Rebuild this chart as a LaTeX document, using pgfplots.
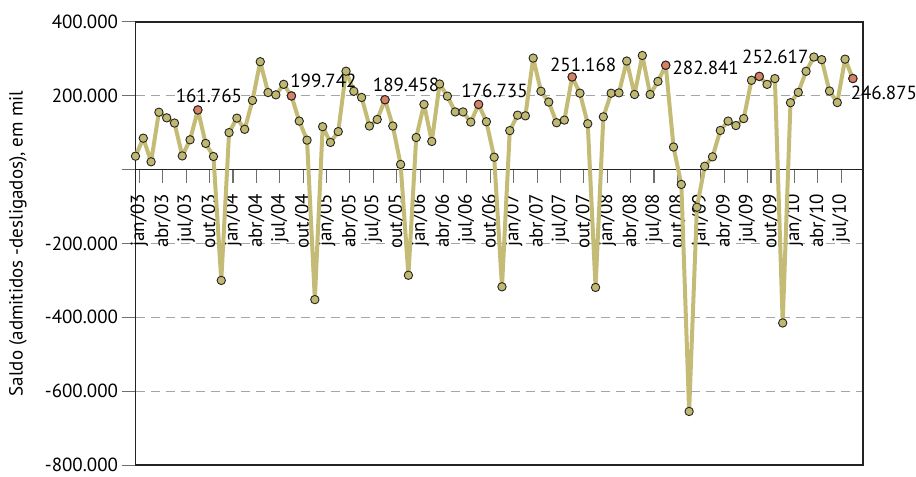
\documentclass[border=0pt]{standalone}
\usepackage{pgfplots}
\usepackage{pgfplotstable}
\pgfplotsset{compat=1.18}
\usepackage{fontspec}
\setmainfont{PT Sans}
\definecolor{khaki}{RGB}{196,188,118}
\definecolor{mk}{RGB}{192,184,112}
\definecolor{redmk}{RGB}{214,128,100}
\definecolor{framec}{RGB}{35,35,35}
\definecolor{tickc}{RGB}{110,110,110}
\definecolor{gridc}{RGB}{165,165,165}

\pgfplotstableread{
x y
0 36.5
1 85.3
2 21.3
3 155.6
4 140.4
5 126.2
6 37.3
7 80.9
8 161.765
9 71.1
10 35.6
11 -300
12 100.4
13 139.6
14 109.3
15 187.6
16 292.4
17 208.9
18 202.7
19 231.1
20 199.742
21 131.6
22 80.0
23 -352
24 116.4
25 73.8
26 103.1
27 266.7
28 212.4
29 195.6
30 118.2
31 136
32 189.458
33 118.2
34 14.2
35 -286
36 87.1
37 176.9
38 76.4
39 232
40 199.1
41 156.4
42 156.4
43 128.9
44 176.735
45 129.8
46 33.8
47 -317.3
48 105.8
49 147.6
50 145.8
51 302.2
52 212.4
53 183.1
54 127.1
55 134.2
56 251.168
57 207.1
58 124.4
59 -319
60 143.1
61 207.1
62 208
63 294.2
64 203.6
65 309.3
66 203.6
67 239.1
68 282.841
69 61.3
70 -40
71 -655
72 -101.7
73 9.2
74 34.8
75 106.2
76 131.6
77 119.5
78 138.4
79 242.1
80 252.617
81 231.0
82 246.7
83 -415.2
84 181.4
85 209.4
86 266.4
87 305.1
88 298.0
89 213.0
90 181.8
91 299.4
92 246.875
}\saldo

\pgfplotstableread{
x y
8 161.765
20 199.742
32 189.458
44 176.735
56 251.168
68 282.841
80 252.617
92 246.875
}\setembro

\begin{document}
\begin{tikzpicture}[font=\fontsize{19}{22}\selectfont]
\begin{axis}[name=main, scale only axis, width=727.5pt, height=443pt,
  xmin=0, xmax=93.3, ymin=-800, ymax=400,
  axis line style={framec, line width=1.2pt},
  xtick=\empty,
  ytick={-800,-600,-400,-200,0,200,400},
  yticklabels={-800.000,-600.000,-400.000,-200.000,,200.000,400.000},
  ytick pos=left, tick align=outside, major tick length=14pt,
  tick style={tickc, line width=1pt},
  ymajorgrids, grid style={gridc, dash pattern=on 9pt off 6pt, line width=1pt},
  yticklabel style={text=black},
]
\end{axis}
\begin{axis}[name=xax, at={(main.north west)}, anchor=north west,
  scale only axis, width=727.5pt, height=147.667pt,
  xmin=0, xmax=93.3, ymin=0, ymax=400,
  axis x line=bottom, axis y line=none,
  axis line style={-, framec, line width=1.2pt},
  xtick={0.5,3.5,6.5,9.5,12.5,15.5,18.5,21.5,24.5,27.5,30.5,33.5,36.5,39.5,42.5,45.5,48.5,51.5,54.5,57.5,60.5,63.5,66.5,69.5,72.5,75.5,78.5,81.5,84.5,87.5,90.5},
  xticklabels={jan/03,abr/03,jul/03,out/03,jan/04,abr/04,jul/04,out/04,jan/05,abr/05,jul/05,out/05,jan/06,abr/06,jul/06,out/06,jan/07,abr/07,jul/07,out/07,jan/08,abr/08,jul/08,out/08,jan/09,abr/09,jul/09,out/09,jan/10,abr/10,jul/10},
  ytick=\empty,
  tick align=outside, major tick length=13pt,
  xtick style={tickc, line width=1.1pt},
  xticklabel shift=10pt,
  xticklabel style={rotate=90, anchor=east, text=black, xshift=2pt},
  clip=false]
\addplot[khaki, line width=4pt, line join=round, mark=*, mark size=4.2pt,
  mark options={fill=mk, draw=framec, line width=0.9pt}] table {\saldo};
\addplot[only marks, mark=*, mark size=4.2pt,
  mark options={fill=redmk, draw=framec, line width=0.9pt}] table {\setembro};
\node[xshift=11pt,yshift=14pt] at (axis cs:8,161.765) {161.765};
\node[xshift=32pt,yshift=15pt] at (axis cs:20,199.742) {199.742};
\node[xshift=21pt,yshift=14.5pt] at (axis cs:32,189.458) {189.458};
\node[xshift=16pt,yshift=13.5pt] at (axis cs:44,176.735) {176.735};
\node[xshift=11pt,yshift=12pt] at (axis cs:56,251.168) {251.168};
\node[xshift=40pt,yshift=-3pt] at (axis cs:68,282.841) {282.841};
\node[xshift=16pt,yshift=20pt] at (axis cs:80,252.617) {252.617};
\node[xshift=31pt,yshift=-14pt] at (axis cs:92,246.875) {246.875};
\end{axis}
\node[rotate=90] at ([xshift=-117.5pt]main.west) {Saldo (admitidos -desligados), em mil};
\pgfresetboundingbox
\path[use as bounding box] ([xshift=-135.5pt,yshift=-11pt]main.south west) rectangle ([xshift=53pt,yshift=22pt]main.north east);
\end{tikzpicture}
\end{document}
